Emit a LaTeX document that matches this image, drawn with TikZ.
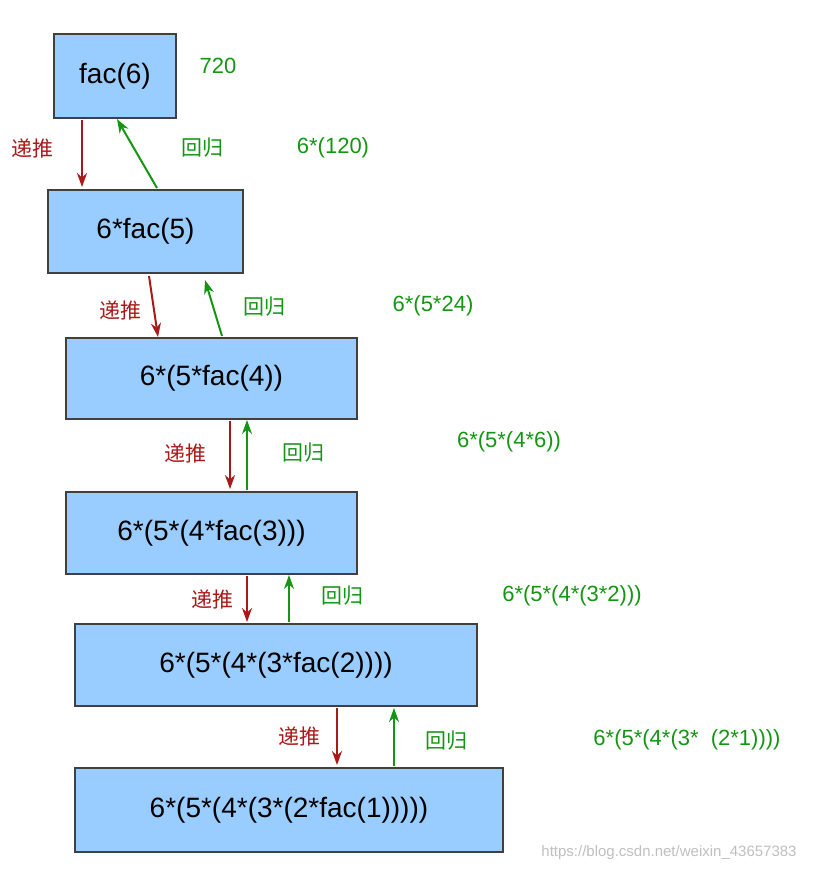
\documentclass[tikz,border=0pt]{standalone}
\usepackage{fontspec}
\setmainfont{Liberation Sans}
\newfontfamily\cjk{Noto Sans CJK SC}
\usetikzlibrary{arrows.meta}
\definecolor{boxfill}{RGB}{153,204,255}
\definecolor{downred}{RGB}{170,25,25}
\definecolor{upgreen}{RGB}{20,150,20}
\begin{document}
\begin{tikzpicture}[x=1pt,y=-1pt,
        box/.style={draw=black!75,line width=1.2pt,fill=boxfill,inner sep=0pt,font=\fontsize{28}{32}\selectfont},
        lbl/.style={font=\cjk\fontsize{21}{24}\selectfont},
        val/.style={text=upgreen,font=\fontsize{22}{26}\selectfont},
        down/.style={draw=downred,line width=2pt,-{Stealth[length=14pt,width=10pt]}},
        up/.style={draw=upgreen,line width=2pt,-{Stealth[length=14pt,width=10pt]}}]
    \useasboundingbox (0,0) rectangle (814,872);

    % boxes
    \node[box,minimum width=122pt,minimum height=84pt] (f6) at (115,76) {fac(6)};
    \node[box,minimum width=195pt,minimum height=83pt] (f5) at (145.5,231.5) {6*fac(5)};
    \node[box,minimum width=291pt,minimum height=81pt] (f4) at (211.5,378.5) {6*(5*fac(4))};
    \node[box,minimum width=291pt,minimum height=82pt] (f3) at (211.5,533) {6*(5*(4*fac(3)))};
    \node[box,minimum width=402pt,minimum height=82pt] (f2) at (276,665) {6*(5*(4*(3*fac(2))))};
    \node[box,minimum width=428pt,minimum height=84pt] (f1) at (289,810) {6*(5*(4*(3*(2*fac(1)))))};

    % recursion and return
    \draw[down] (82,120) -- (82,187);
    \draw[up] (157,188) -- (117,119);
    \draw[down] (149,276) -- (158,337);
    \draw[up] (222,336) -- (205,280);
    \draw[down] (230,421) -- (230,489);
    \draw[up] (247,490) -- (247,420);
    \draw[down] (247,576) -- (247,622);
    \draw[up] (289,622) -- (289,575);
    \draw[down] (337,708) -- (337,765);
    \draw[up] (394,766) -- (394,708);

    % labels
    \node[lbl,text=downred] (d1) at (33,148) {递推};
    \node[lbl,text=upgreen] (u1) at (202,148) {回归};
    \node[lbl,text=downred] (d2) at (120,310) {递推};
    \node[lbl,text=upgreen] (u2) at (264,307) {回归};
    \node[lbl,text=downred] (d3) at (185,453) {递推};
    \node[lbl,text=upgreen] (u3) at (303,453) {回归};
    \node[lbl,text=downred] (d4) at (212,599) {递推};
    \node[lbl,text=upgreen] (u4) at (342,596) {回归};
    \node[lbl,text=downred] (d5) at (299,736) {递推};
    \node[lbl,text=upgreen] (u5) at (446,741) {回归};

    % values
    \node[val] (v6) at (218,66) {720};
    \node[val] (v5) at (333,148) {6*(120)};
    \node[val] (v4) at (433,306) {6*(5*24)};
    \node[val] (v3) at (509,442) {6*(5*(4*6))};
    \node[val] (v2) at (572,596) {6*(5*(4*(3*2)))};
    \node[val] (v1) at (687,740) {6*(5*(4*(3*\ \ (2*1))))};

    \node[text=black!25,font=\fontsize{15}{17}\selectfont] (wm) at (669,853) {https://blog.csdn.net/weixin\_43657383};
\end{tikzpicture}
\end{document}
